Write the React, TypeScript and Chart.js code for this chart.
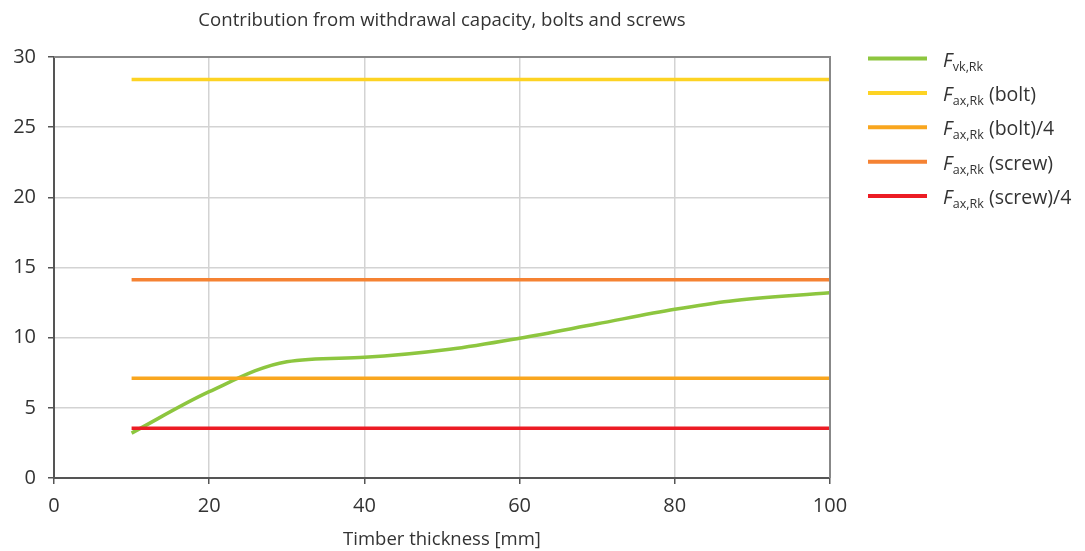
import React, { useEffect, useRef } from "react";
import { Chart, registerables } from "chart.js";

Chart.register(...registerables);

const FONT = "'Open Sans', 'Noto Sans', sans-serif";
const TEXT = "#333333";

const chartTitle = "Contribution from withdrawal capacity, bolts and screws";
const xAxisTitle = "Timber thickness [mm]";

const vkX = [10, 20, 30, 40, 51, 60, 70, 80, 87, 100];
const vkY = [3.2, 6.15, 8.29, 8.6, 9.17, 9.96, 10.99, 12.02, 12.6, 13.2];

const lineX = [10, 100];
const boltValue = 28.4;
const boltQuarter = 7.1;
const screwValue = 14.13;
const screwQuarter = 3.55;

const seriesNames = ["vk,Rk", "ax,Rk", "ax,Rk", "ax,Rk", "ax,Rk"];
const seriesSuffix = ["", " (bolt)", " (bolt)/4", " (screw)", " (screw)/4"];
const seriesColors = ["#8DC63F", "#FDD323", "#F9A61E", "#F58233", "#EC1C24"];

const xTicks = [0, 20, 40, 60, 80, 100];
const yTicks = [0, 5, 10, 15, 20, 25, 30];

const overlayPlugin = {
  id: "overlay",
  afterDraw(chart: any) {
    const ctx = chart.ctx;
    const area = chart.chartArea;
    ctx.save();
    // title
    ctx.fillStyle = TEXT;
    ctx.font = `18.6px ${FONT}`;
    ctx.textAlign = "center";
    ctx.textBaseline = "middle";
    ctx.fillText(chartTitle, 442, 21);
    // top & right border
    ctx.strokeStyle = "#888888";
    ctx.lineWidth = 2;
    ctx.beginPath();
    ctx.moveTo(area.left, area.top);
    ctx.lineTo(area.right, area.top);
    ctx.lineTo(area.right, area.bottom);
    ctx.stroke();
    // legend
    ctx.textAlign = "left";
    ctx.textBaseline = "alphabetic";
    for (let i = 0; i < seriesNames.length; i++) {
      const cy = 58.5 + i * 34.4;
      ctx.strokeStyle = seriesColors[i];
      ctx.lineWidth = 4;
      ctx.beginPath();
      ctx.moveTo(868, cy);
      ctx.lineTo(927, cy);
      ctx.stroke();
      ctx.fillStyle = TEXT;
      let x = 943;
      ctx.font = `italic 19.5px ${FONT}`;
      ctx.fillText("F", x, cy + 8);
      x += ctx.measureText("F").width + 0.5;
      ctx.font = `12.5px ${FONT}`;
      ctx.fillText(seriesNames[i], x, cy + 12);
      x += ctx.measureText(seriesNames[i]).width;
      ctx.font = `19.5px ${FONT}`;
      ctx.fillText(seriesSuffix[i], x, cy + 8);
    }
    ctx.restore();
  },
};

function hLine(label: string, v: number, color: string) {
  return {
    label,
    data: lineX.map((x) => ({ x, y: v })),
    borderColor: color,
    backgroundColor: color,
    borderWidth: 3.5,
    pointRadius: 0,
    tension: 0,
  };
}

export default function App() {
  const ref = useRef<HTMLCanvasElement | null>(null);
  useEffect(() => {
    if (!ref.current) return;
    const chart = new Chart(ref.current, {
      type: "line",
      data: {
        datasets: [
          hLine("F ax,Rk (screw)/4", screwQuarter, seriesColors[4]),
          hLine("F ax,Rk (screw)", screwValue, seriesColors[3]),
          hLine("F ax,Rk (bolt)/4", boltQuarter, seriesColors[2]),
          hLine("F ax,Rk (bolt)", boltValue, seriesColors[1]),
          {
            label: "F vk,Rk",
            data: vkX.map((x, i) => ({ x, y: vkY[i] })),
            borderColor: seriesColors[0],
            backgroundColor: seriesColors[0],
            borderWidth: 3.5,
            pointRadius: 0,
            cubicInterpolationMode: "monotone",
          } as any,
        ],
      },
      options: {
        animation: false,
        responsive: true,
        maintainAspectRatio: false,
        layout: { padding: { top: 57, right: 255, left: 0, bottom: 0 } },
        plugins: {
          legend: { display: false },
          title: { display: false },
          tooltip: { enabled: false },
        },
        scales: {
          x: {
            type: "linear",
            min: 0,
            max: 100,
            afterFit: (s: any) => {
              s.height = 73;
            },
            afterBuildTicks: (s: any) => {
              s.ticks = xTicks.map((v) => ({ value: v }));
            },
            ticks: {
              color: TEXT,
              font: { family: FONT, size: 20 },
              padding: 10,
              maxRotation: 0,
            },
            grid: {
              color: "#d3d3d3",
              lineWidth: 1.5,
              tickLength: 6,
              tickColor: "#555555",
              tickWidth: 1.5,
            },
            border: { color: "#555555", width: 2 },
            title: {
              display: true,
              text: xAxisTitle,
              color: TEXT,
              font: { family: FONT, size: 18.5 },
              padding: { top: 2, bottom: 0 },
            },
          },
          y: {
            type: "linear",
            min: 0,
            max: 30,
            afterFit: (s: any) => {
              s.width = 54;
            },
            afterBuildTicks: (s: any) => {
              s.ticks = yTicks.map((v) => ({ value: v }));
            },
            ticks: {
              color: TEXT,
              font: { family: FONT, size: 20 },
              padding: 12,
            },
            grid: {
              color: "#d3d3d3",
              lineWidth: 1.5,
              tickLength: 6,
              tickColor: "#555555",
              tickWidth: 1.5,
            },
            border: { color: "#555555", width: 2 },
          },
        },
      },
      plugins: [overlayPlugin],
    });
    return () => chart.destroy();
  }, []);
  return (
    <div style={{ position: "fixed", left: 0, top: 0, width: 1085, height: 551, background: "#fff" }}>
      <canvas ref={ref} />
    </div>
  );
}
